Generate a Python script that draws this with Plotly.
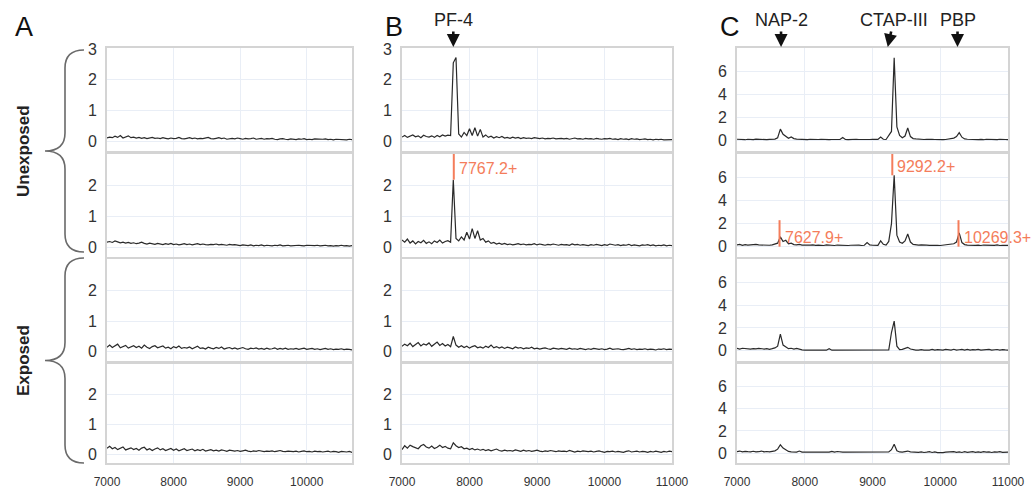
import plotly.graph_objects as go
from plotly.subplots import make_subplots

# ---------------- data ----------------
MZ = [7000, 7040, 7080, 7120, 7160, 7200, 7240, 7280, 7320, 7360,
      7400, 7440, 7480, 7520, 7560, 7600, 7640, 7680, 7720, 7760,
      7800, 7840, 7880, 7920, 7960, 8000, 8040, 8080, 8120, 8160,
      8200, 8240, 8280, 8320, 8360, 8400, 8440, 8480, 8520, 8560,
      8600, 8640, 8680, 8720, 8760, 8800, 8840, 8880, 8920, 8960,
      9000, 9040, 9080, 9120, 9160, 9200, 9240, 9280, 9320, 9360,
      9400, 9440, 9480, 9520, 9560, 9600, 9640, 9680, 9720, 9760,
      9800, 9840, 9880, 9920, 9960, 10000, 10040, 10080, 10120, 10160,
      10200, 10240, 10280, 10320, 10360, 10400, 10440, 10480, 10520, 10560,
      10600, 10640, 10680, 10720, 10760, 10800, 10840, 10880, 10920, 10960,
      11000]

A_UNEXP_1 = [0.12, 0.15, 0.13, 0.18, 0.14, 0.20, 0.12, 0.16, 0.19, 0.13,
             0.15, 0.12, 0.14, 0.11, 0.13, 0.10, 0.12, 0.14, 0.11, 0.12,
             0.10, 0.13, 0.11, 0.09, 0.12, 0.10, 0.11, 0.14, 0.10, 0.09,
             0.11, 0.13, 0.10, 0.12, 0.09, 0.11, 0.10, 0.12, 0.14, 0.10,
             0.09, 0.11, 0.13, 0.10, 0.12, 0.08, 0.10, 0.11, 0.09, 0.12,
             0.10, 0.08, 0.11, 0.09, 0.10, 0.12, 0.08, 0.09, 0.11, 0.08,
             0.10, 0.09, 0.11, 0.08, 0.07, 0.09, 0.10, 0.08, 0.07, 0.09,
             0.08, 0.07, 0.09, 0.08, 0.10, 0.07, 0.08, 0.07, 0.09, 0.08,
             0.07, 0.08, 0.09, 0.07, 0.08, 0.06, 0.08, 0.07, 0.08, 0.07,
             0.06, 0.08, 0.07, 0.06, 0.08, 0.07, 0.06, 0.07, 0.08, 0.06,
             0.07]
A_UNEXP_2 = [0.18, 0.20, 0.17, 0.22, 0.19, 0.16, 0.18, 0.15, 0.17, 0.14,
             0.16, 0.13, 0.15, 0.18, 0.14, 0.12, 0.15, 0.13, 0.11, 0.14,
             0.12, 0.10, 0.13, 0.11, 0.14, 0.10, 0.12, 0.09, 0.11, 0.13,
             0.10, 0.12, 0.09, 0.11, 0.13, 0.10, 0.12, 0.10, 0.09, 0.11,
             0.10, 0.12, 0.09, 0.11, 0.10, 0.08, 0.11, 0.09, 0.10, 0.08,
             0.07, 0.09, 0.08, 0.07, 0.09, 0.06, 0.08, 0.07, 0.09, 0.06,
             0.08, 0.07, 0.06, 0.08, 0.07, 0.09, 0.06, 0.07, 0.08, 0.06,
             0.07, 0.06, 0.08, 0.07, 0.06, 0.08, 0.07, 0.06, 0.07, 0.08,
             0.06, 0.07, 0.08, 0.06, 0.07, 0.05, 0.07, 0.06, 0.08, 0.06,
             0.07, 0.05, 0.06, 0.08, 0.06, 0.07, 0.05, 0.06, 0.07, 0.06,
             0.05]
A_EXP_1 = [0.15, 0.22, 0.14, 0.19, 0.25, 0.13, 0.18, 0.21, 0.12, 0.17,
           0.20, 0.14, 0.18, 0.12, 0.22, 0.15, 0.11, 0.17, 0.20, 0.13,
           0.16, 0.19, 0.12, 0.15, 0.10, 0.17, 0.13, 0.19, 0.11, 0.14,
           0.12, 0.16, 0.10, 0.14, 0.18, 0.11, 0.13, 0.09, 0.15, 0.12,
           0.10, 0.14, 0.11, 0.16, 0.09, 0.12, 0.14, 0.10, 0.13, 0.09,
           0.11, 0.14, 0.10, 0.08, 0.12, 0.10, 0.13, 0.09, 0.11, 0.08,
           0.12, 0.09, 0.10, 0.13, 0.08, 0.11, 0.09, 0.12, 0.08, 0.10,
           0.09, 0.11, 0.08, 0.10, 0.12, 0.08, 0.09, 0.11, 0.08, 0.10,
           0.07, 0.09, 0.11, 0.08, 0.10, 0.07, 0.09, 0.08, 0.10, 0.07,
           0.09, 0.08, 0.06, 0.09, 0.08, 0.10, 0.07, 0.08, 0.06, 0.08,
           0.07]
A_EXP_2 = [0.20, 0.26, 0.18, 0.22, 0.15, 0.19, 0.24, 0.14, 0.18, 0.21,
           0.15, 0.19, 0.13, 0.20, 0.23, 0.14, 0.18, 0.12, 0.17, 0.21,
           0.14, 0.18, 0.12, 0.16, 0.19, 0.13, 0.17, 0.11, 0.15, 0.18,
           0.12, 0.14, 0.17, 0.11, 0.15, 0.12, 0.16, 0.10, 0.13, 0.15,
           0.11, 0.13, 0.10, 0.14, 0.12, 0.09, 0.13, 0.11, 0.10, 0.12,
           0.09, 0.11, 0.13, 0.10, 0.08, 0.11, 0.09, 0.12, 0.10, 0.08,
           0.10, 0.09, 0.11, 0.08, 0.10, 0.12, 0.09, 0.08, 0.10, 0.09,
           0.08, 0.10, 0.07, 0.09, 0.11, 0.08, 0.09, 0.07, 0.10, 0.08,
           0.09, 0.07, 0.08, 0.10, 0.07, 0.09, 0.08, 0.06, 0.09, 0.08,
           0.07, 0.09, 0.06, 0.08, 0.07, 0.09, 0.06, 0.08, 0.07, 0.06,
           0.08]

B_UNEXP_1 = [0.15, 0.20, 0.14, 0.18, 0.22, 0.16, 0.19, 0.13, 0.21, 0.17,
             0.15, 0.19, 0.14, 0.20, 0.16, 0.22, 0.18, 0.21, 0.20, 2.55,
             2.72, 0.25, 0.15, 0.30, 0.20, 0.42, 0.20, 0.45, 0.18, 0.40,
             0.15, 0.22, 0.14, 0.18, 0.12, 0.16, 0.13, 0.17, 0.12, 0.14,
             0.11, 0.15, 0.12, 0.14, 0.10, 0.13, 0.11, 0.12, 0.10, 0.13,
             0.11, 0.10, 0.12, 0.09, 0.11, 0.10, 0.12, 0.09, 0.10, 0.11,
             0.09, 0.11, 0.08, 0.10, 0.12, 0.09, 0.10, 0.08, 0.11, 0.09,
             0.10, 0.08, 0.11, 0.09, 0.08, 0.10, 0.09, 0.11, 0.08, 0.09,
             0.07, 0.10, 0.08, 0.09, 0.07, 0.10, 0.08, 0.09, 0.07, 0.08,
             0.09, 0.07, 0.08, 0.06, 0.08, 0.07, 0.08, 0.06, 0.07, 0.08,
             0.07]
B_UNEXP_2 = [0.25, 0.18, 0.28, 0.15, 0.22, 0.12, 0.20, 0.16, 0.24, 0.14,
             0.19, 0.13, 0.22, 0.17, 0.25, 0.15, 0.20, 0.23, 0.18, 2.20,
             0.30, 0.22, 0.35, 0.25, 0.50, 0.28, 0.62, 0.30, 0.55, 0.25,
             0.30, 0.18, 0.22, 0.14, 0.17, 0.12, 0.15, 0.11, 0.14, 0.10,
             0.12, 0.09, 0.11, 0.13, 0.10, 0.12, 0.09, 0.11, 0.10, 0.13,
             0.09, 0.12, 0.10, 0.08, 0.11, 0.09, 0.12, 0.10, 0.08, 0.11,
             0.09, 0.10, 0.08, 0.12, 0.09, 0.11, 0.08, 0.10, 0.09, 0.07,
             0.10, 0.08, 0.11, 0.09, 0.07, 0.10, 0.08, 0.12, 0.09, 0.08,
             0.10, 0.07, 0.09, 0.08, 0.11, 0.07, 0.09, 0.08, 0.06, 0.09,
             0.08, 0.10, 0.07, 0.09, 0.06, 0.08, 0.07, 0.09, 0.06, 0.08,
             0.07]
B_EXP_1 = [0.18, 0.25, 0.20, 0.28, 0.17, 0.24, 0.30, 0.19, 0.26, 0.22,
           0.29, 0.18, 0.25, 0.32, 0.21, 0.27, 0.19, 0.24, 0.17, 0.50,
           0.22, 0.15, 0.20, 0.14, 0.18, 0.12, 0.17, 0.20, 0.13, 0.16,
           0.12, 0.18, 0.14, 0.22, 0.13, 0.17, 0.12, 0.16, 0.11, 0.15,
           0.13, 0.10, 0.16, 0.12, 0.14, 0.10, 0.13, 0.11, 0.15, 0.10,
           0.12, 0.09, 0.11, 0.13, 0.10, 0.08, 0.12, 0.10, 0.09, 0.11,
           0.10, 0.08, 0.12, 0.09, 0.10, 0.08, 0.11, 0.09, 0.07, 0.10,
           0.08, 0.11, 0.09, 0.08, 0.10, 0.07, 0.09, 0.12, 0.08, 0.09,
           0.10, 0.08, 0.07, 0.09, 0.11, 0.08, 0.10, 0.07, 0.09, 0.08,
           0.10, 0.07, 0.09, 0.08, 0.06, 0.09, 0.08, 0.10, 0.07, 0.09,
           0.08]
B_EXP_2 = [0.15, 0.28, 0.20, 0.30, 0.25, 0.22, 0.18, 0.28, 0.32, 0.24,
           0.20, 0.27, 0.19, 0.23, 0.30, 0.22, 0.26, 0.20, 0.18, 0.38,
           0.28, 0.22, 0.25, 0.18, 0.20, 0.15, 0.19, 0.14, 0.17, 0.13,
           0.16, 0.12, 0.15, 0.11, 0.14, 0.17, 0.12, 0.10, 0.13, 0.11,
           0.12, 0.10, 0.14, 0.11, 0.09, 0.13, 0.10, 0.12, 0.09, 0.11,
           0.13, 0.10, 0.08, 0.11, 0.09, 0.12, 0.10, 0.08, 0.11, 0.09,
           0.10, 0.08, 0.12, 0.09, 0.07, 0.10, 0.08, 0.11, 0.09, 0.08,
           0.10, 0.07, 0.09, 0.11, 0.08, 0.06, 0.09, 0.08, 0.10, 0.07,
           0.09, 0.08, 0.06, 0.09, 0.11, 0.07, 0.08, 0.10, 0.07, 0.09,
           0.08, 0.06, 0.09, 0.07, 0.10, 0.08, 0.06, 0.09, 0.07, 0.10,
           0.08]

C_UNEXP_1 = [0.12, 0.10, 0.14, 0.08, 0.12, 0.10, 0.09, 0.13, 0.11, 0.10,
             0.12, 0.09, 0.11, 0.10, 0.13, 0.25, 1.00, 0.55, 0.35, 0.20,
             0.32, 0.18, 0.14, 0.12, 0.10, 0.11, 0.09, 0.12, 0.10, 0.08,
             0.10, 0.12, 0.09, 0.11, 0.08, 0.10, 0.12, 0.09, 0.10, 0.28,
             0.10, 0.09, 0.11, 0.08, 0.12, 0.10, 0.09, 0.13, 0.11, 0.10,
             0.12, 0.09, 0.11, 0.32, 0.12, 0.10, 0.40, 0.80, 7.20, 1.20,
             0.45, 0.25, 0.40, 1.10, 0.35, 0.18, 0.15, 0.12, 0.14, 0.10,
             0.12, 0.09, 0.11, 0.10, 0.08, 0.11, 0.09, 0.10, 0.12, 0.15,
             0.22, 0.35, 0.70, 0.30, 0.15, 0.12, 0.10, 0.14, 0.11, 0.09,
             0.11, 0.08, 0.12, 0.10, 0.07, 0.11, 0.09, 0.12, 0.08, 0.10,
             0.09]
C_UNEXP_2 = [0.15, 0.20, 0.12, 0.18, 0.14, 0.16, 0.12, 0.19, 0.15, 0.13,
             0.17, 0.14, 0.12, 0.16, 0.20, 0.30, 0.85, 0.45, 0.55, 0.25,
             0.30, 0.18, 0.15, 0.20, 0.14, 0.12, 0.16, 0.13, 0.15, 0.11,
             0.14, 0.12, 0.10, 0.15, 0.12, 0.13, 0.10, 0.14, 0.12, 0.11,
             0.13, 0.10, 0.12, 0.14, 0.11, 0.13, 0.10, 0.12, 0.35, 0.15,
             0.12, 0.14, 0.11, 0.50, 0.20, 0.14, 0.45, 2.00, 6.20, 1.00,
             0.40, 0.30, 0.50, 1.10, 0.40, 0.20, 0.15, 0.13, 0.16, 0.12,
             0.14, 0.11, 0.13, 0.15, 0.12, 0.10, 0.13, 0.11, 0.14, 0.20,
             0.25, 0.40, 1.20, 0.35, 0.18, 0.14, 0.12, 0.15, 0.11, 0.13,
             0.10, 0.14, 0.12, 0.09, 0.13, 0.11, 0.15, 0.10, 0.12, 0.14,
             0.11]
C_EXP_1 = [0.20, 0.15, 0.22, 0.18, 0.20, 0.14, 0.19, 0.16, 0.21, 0.17,
           0.15, 0.19, 0.13, 0.18, 0.25, 0.40, 1.45, 0.50, 0.30, 0.18,
           0.22, 0.15, 0.20, 0.12, 0.08, 0.05, 0.06, 0.05, 0.05, 0.06,
           0.05, 0.05, 0.06, 0.05, 0.18, 0.05, 0.05, 0.06, 0.05, 0.05,
           0.06, 0.05, 0.05, 0.05, 0.06, 0.05, 0.05, 0.08, 0.05, 0.05,
           0.06, 0.05, 0.05, 0.05, 0.06, 0.05, 0.08, 1.60, 2.60, 0.40,
           0.10, 0.12, 0.20, 0.30, 0.15, 0.08, 0.06, 0.05, 0.10, 0.06,
           0.05, 0.06, 0.12, 0.05, 0.10, 0.07, 0.05, 0.12, 0.08, 0.06,
           0.13, 0.05, 0.09, 0.12, 0.06, 0.11, 0.05, 0.10, 0.07, 0.12,
           0.06, 0.10, 0.08, 0.12, 0.05, 0.09, 0.11, 0.06, 0.10, 0.07,
           0.05]
C_EXP_2 = [0.12, 0.18, 0.10, 0.15, 0.12, 0.10, 0.16, 0.10, 0.12, 0.18,
           0.10, 0.14, 0.10, 0.12, 0.20, 0.35, 0.75, 0.45, 0.30, 0.15,
           0.10, 0.08, 0.08, 0.18, 0.08, 0.08, 0.08, 0.08, 0.08, 0.08,
           0.08, 0.08, 0.08, 0.08, 0.08, 0.15, 0.08, 0.14, 0.08, 0.08,
           0.08, 0.08, 0.08, 0.08, 0.08, 0.12, 0.08, 0.08, 0.08, 0.08,
           0.08, 0.08, 0.08, 0.08, 0.08, 0.08, 0.10, 0.30, 0.80, 0.20,
           0.10, 0.08, 0.12, 0.18, 0.10, 0.08, 0.12, 0.06, 0.10, 0.05,
           0.08, 0.12, 0.05, 0.10, 0.04, 0.02, 0.03, 0.08, 0.10, 0.08,
           0.12, 0.07, 0.10, 0.05, 0.12, 0.06, 0.10, 0.13, 0.07, 0.11,
           0.06, 0.12, 0.08, 0.10, 0.05, 0.11, 0.08, 0.12, 0.06, 0.10,
           0.08]

PANELS = ["A", "B", "C"]
GROUPS = ["Unexposed", "Exposed"]
X_TICKS = [7000, 8000, 9000, 10000, 11000]
X_TICK_TEXT = ["7000", "8000", "9000", "10000", "11000"]
AB_TICKS_TOP = [0, 1, 2, 3]
AB_TICKS = [0, 1, 2]
C_TICKS = [0, 2, 4, 6]

# top labels with arrows: (text, m/z, panel column)
ARROW_TEXT = ["PF-4", "NAP-2", "CTAP-III", "PBP"]
ARROW_MZ = [7760, 7650, 9225, 10255]
ARROW_COL = [2, 3, 3, 3]

# peak mass labels (row 2): text, m/z, panel column, line bottom, line top, label y
PEAK_TEXT = ["7767.2+", "9292.2+", "7627.9+", "10269.3+"]
PEAK_MZ = [7767.2, 9292.2, 7627.9, 10269.3]
PEAK_COL = [2, 3, 3, 3]
PEAK_Y0 = [2.2, 6.2, 0.0, 0.0]
PEAK_Y1 = [3.03, 8.05, 2.3, 2.3]
PEAK_LABEL_Y = [2.55, 7.0, 0.8, 0.8]

SERIES = [[A_UNEXP_1, B_UNEXP_1, C_UNEXP_1],
          [A_UNEXP_2, B_UNEXP_2, C_UNEXP_2],
          [A_EXP_1, B_EXP_1, C_EXP_1],
          [A_EXP_2, B_EXP_2, C_EXP_2]]

# ---------------- layout geometry (pixels) ----------------
W, H = 1036, 491
COL_PX = [(107, 352), (402, 672), (737, 1008)]
ROW_PX = [(48, 151), (154, 257), (259, 361), (364, 463)]
X_RANGES = [[7000, 10680], [7000, 11000], [7000, 11000]]
AB_RANGE = [-0.3, 3.03]
C_RANGE = [-0.9, 8.05]

FONT = "Liberation Sans, Arial, Helvetica, sans-serif"
LINE_COLOR = "#2a2a2a"
GRID = "#e9eef6"
BORDER = "#d4d4d4"
ORANGE = "#f47d5b"


def px(x):
    return x / W


def py(y):
    return 1 - y / H


fig = make_subplots(rows=4, cols=3)

for r in range(4):
    for c in range(3):
        fig.add_trace(go.Scatter(x=MZ, y=SERIES[r][c], mode="lines",
                                 line=dict(color=LINE_COLOR, width=1.2),
                                 showlegend=False, hoverinfo="skip"),
                      row=r + 1, col=c + 1)

for r in range(4):
    for c in range(3):
        n = r * 3 + c + 1
        sfx = "" if n == 1 else str(n)
        x0, x1 = COL_PX[c]
        y0, y1 = ROW_PX[r]
        if c < 2:
            yticks = AB_TICKS_TOP if r == 0 else AB_TICKS
            yr = AB_RANGE
        else:
            yticks = C_TICKS
            yr = C_RANGE
        fig.layout["xaxis" + sfx].update(
            domain=[px(x0), px(x1)], range=X_RANGES[c],
            tickvals=X_TICKS, ticktext=X_TICK_TEXT, showticklabels=(r == 3),
            tickfont=dict(size=12, color="#333333", family=FONT),
            ticks="outside", ticklen=7, tickcolor="rgba(0,0,0,0)",
            showgrid=True, gridcolor=GRID, gridwidth=1, zeroline=False,
            showline=True, mirror=True, linecolor=BORDER, linewidth=2,
            automargin=False, fixedrange=True)
        fig.layout["yaxis" + sfx].update(
            domain=[py(y1), py(y0)], range=yr,
            tickvals=yticks,
            tickfont=dict(size=16, color="#333333", family=FONT),
            ticks="outside", ticklen=5, tickcolor="rgba(0,0,0,0)",
            showgrid=True, gridcolor=GRID, gridwidth=1, zeroline=False,
            showline=True, mirror=True, linecolor=BORDER, linewidth=2,
            automargin=False, fixedrange=True)

annotations = []

# panel letters
for c, letter in enumerate(PANELS):
    lx = [24, 394, 730][c]
    annotations.append(dict(text=letter, x=px(lx), y=py(27), xref="paper", yref="paper",
                            showarrow=False, xanchor="center", yanchor="middle",
                            font=dict(size=27, color="#111111", family=FONT)))

# group labels
for g, label in enumerate(GROUPS):
    cy = [151, 361][g]
    annotations.append(dict(text="<b>" + label + "</b>", x=px(23), y=py(cy),
                            xref="paper", yref="paper", showarrow=False, textangle=-90,
                            xanchor="center", yanchor="middle",
                            font=dict(size=17, color="#222222", family=FONT)))

# arrows with protein labels
for t, mz, col in zip(ARROW_TEXT, ARROW_MZ, ARROW_COL):
    annotations.append(dict(text=t, x=mz, y=py(47), xref="x" + str(col), yref="paper",
                            showarrow=True, arrowhead=2, arrowsize=1.0, arrowwidth=2.6,
                            arrowcolor="#111111", ax=6 if t == "CTAP-III" else 0, ay=-27,
                            standoff=0,
                            font=dict(size=18, color="#222222", family=FONT)))

# peak mass labels in row 2
shapes = []
for t, mz, col, ya, yb, ly in zip(PEAK_TEXT, PEAK_MZ, PEAK_COL, PEAK_Y0, PEAK_Y1, PEAK_LABEL_Y):
    n = 3 + col
    shapes.append(dict(type="line", xref="x" + str(n), yref="y" + str(n),
                       x0=mz, x1=mz, y0=ya, y1=yb,
                       line=dict(color=ORANGE, width=2)))
    annotations.append(dict(text=t, x=mz, y=ly, xref="x" + str(n), yref="y" + str(n),
                            showarrow=False, xanchor="left", yanchor="middle", xshift=3,
                            font=dict(size=16, color=ORANGE, family=FONT)))

# curly braces


def brace(top, bottom, tip_x=45, stem_x=65, end_x=84):
    mid = (top + bottom) / 2
    k = 18

    def P(x, y):
        return "%.5f,%.5f" % (px(x), py(y))
    return ("M " + P(end_x, top) + " Q " + P(stem_x, top) + " " + P(stem_x, top + k) +
            " L " + P(stem_x, mid - k) + " Q " + P(stem_x, mid) + " " + P(tip_x, mid) +
            " Q " + P(stem_x, mid) + " " + P(stem_x, mid + k) +
            " L " + P(stem_x, bottom - k) + " Q " + P(stem_x, bottom) + " " + P(end_x, bottom))


for top, bottom in [(50, 252), (258, 463)]:
    shapes.append(dict(type="path", xref="paper", yref="paper", path=brace(top, bottom),
                       line=dict(color="#6a6a6a", width=1.6)))

fig.update_layout(width=W, height=H, margin=dict(l=0, r=0, t=0, b=0, autoexpand=False),
                  paper_bgcolor="white", plot_bgcolor="white",
                  annotations=annotations, shapes=shapes,
                  font=dict(family=FONT))

fig.write_html("out.html", config={"displayModeBar": False},
               post_script="document.body.style.margin='0';document.body.style.overflow='hidden';")
